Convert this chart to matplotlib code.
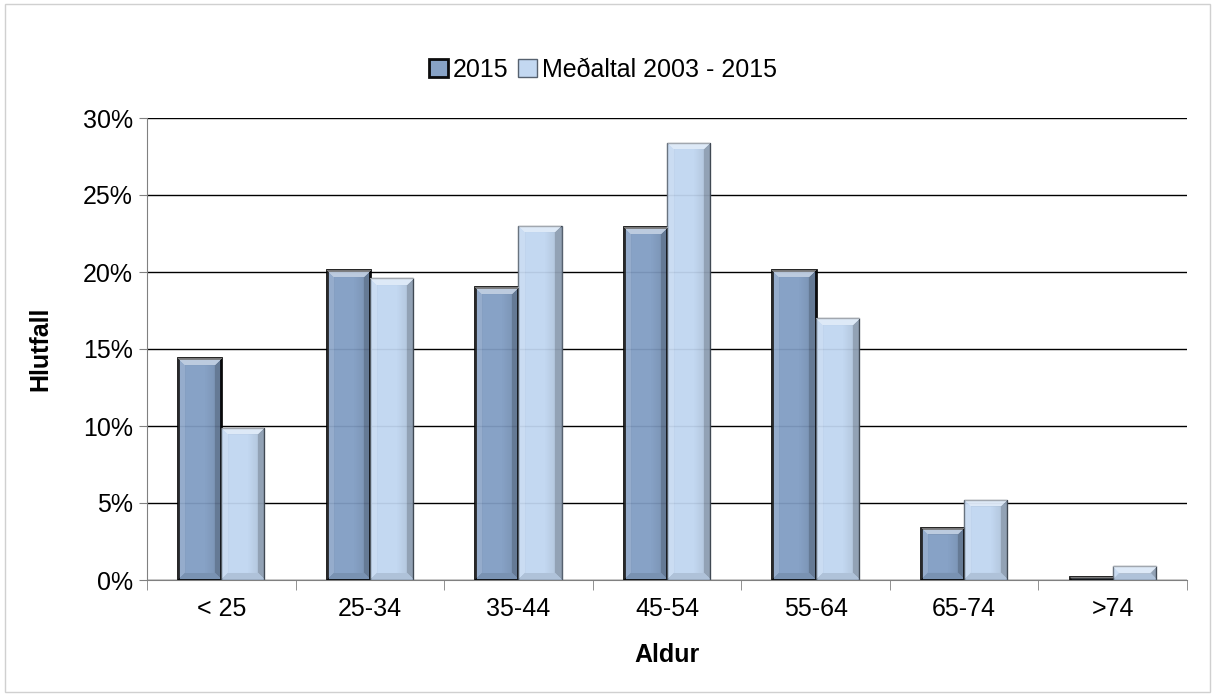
import matplotlib.pyplot as plt
import numpy as np
from matplotlib.patches import Rectangle

plt.rcParams["font.family"] = ["Liberation Sans", "DejaVu Sans"]

# Data
categories = ["< 25", "25-34", "35-44", "45-54", "55-64", "65-74", ">74"]
y2015 = [14.4, 20.1, 19.0, 22.9, 20.1, 3.4, 0.2]
avg = [9.9, 19.6, 23.0, 28.4, 17.0, 5.2, 0.9]
yticks = [0, 5, 10, 15, 20, 25, 30]

W, H = 1215, 695
fig = plt.figure(figsize=(W / 100, H / 100), dpi=100)
fig.patches.append(Rectangle((0.004, 0.004), 0.992, 0.99, transform=fig.transFigure,
                             fill=False, edgecolor="#d0d0d0", linewidth=1))
ax = fig.add_axes([147 / W, 1 - 580 / H, 1040 / W, 462 / H])

x = np.arange(len(categories))
w = 0.29
b1 = ax.bar(x - w / 2, y2015, w, color="#809cc3", edgecolor="black", linewidth=2,
            label="2015", zorder=3, alpha=0.94)
b2 = ax.bar(x + w / 2, avg, w, color="#c0d6f1", edgecolor="#4d5866", linewidth=1,
            label="Meðaltal 2003 - 2015", zorder=3, alpha=0.94)

ax.set_xlim(-0.5, len(categories) - 0.5)
ax.set_ylim(0, 30)


def bevel(patch, px=7):
    # shaded overlay that gives the bar a bevelled look
    bx, by = patch.get_x(), patch.get_y()
    bw, bh = patch.get_width(), patch.get_height()
    p0 = ax.transData.transform((bx, by))
    p1 = ax.transData.transform((bx + bw, by + bh))
    nc = max(int(p1[0] - p0[0]), 2)
    nr = max(int(p1[1] - p0[1]), 2)
    r = np.arange(nr)[:, None] * np.ones((1, nc))
    c = np.ones((nr, 1)) * np.arange(nc)[None, :]
    d_top, d_bot = r, nr - 1 - r
    d_left, d_right = c, nc - 1 - c
    img = np.zeros((nr, nc, 4))
    u = c / (nc - 1)
    img[..., 3] = 0.12 * np.clip((u - 0.6) / 0.4, 0, 1)
    dmin = np.minimum.reduce([d_top, d_bot, d_left, d_right])
    edge = dmin < px
    top = edge & (d_top == dmin)
    bot = edge & (d_bot == dmin) & ~top
    left = edge & (d_left == dmin) & ~top & ~bot
    right = edge & (d_right == dmin) & ~top & ~bot & ~left
    img[top] = [1, 1, 1, 0.45]
    img[left] = [1, 1, 1, 0.12]
    img[right] = [0, 0, 0, 0.25]
    img[bot] = [0, 0, 0, 0.10]
    im = ax.imshow(img, extent=(bx, bx + bw, by, by + bh), aspect="auto",
                   interpolation="bilinear", zorder=3.5)
    im.set_clip_path(patch)


for p in list(b1) + list(b2):
    bevel(p)

ax.set_xlim(-0.5, len(categories) - 0.5)
ax.set_ylim(0, 30)
ax.set_yticks(yticks)
ax.set_yticklabels([f"{t}%" for t in yticks])
ax.set_xticks(x)
ax.set_xticklabels(categories)
ax.set_xticks(np.arange(-0.5, len(categories)), minor=True)
ax.tick_params(axis="x", which="major", length=0, labelsize=18, pad=12)
ax.tick_params(axis="x", which="minor", length=7, color="#808080")
ax.tick_params(axis="y", labelsize=18, length=6, color="#808080", pad=4)
ax.grid(axis="y", color="black", linewidth=1, zorder=0)
ax.set_axisbelow(True)
for s in ["top", "right"]:
    ax.spines[s].set_visible(False)
ax.spines["left"].set_color("#808080")
ax.spines["bottom"].set_color("#808080")

ax.set_xlabel("Aldur", fontsize=18, fontweight="bold", labelpad=16)
ax.set_ylabel("Hlutfall", fontsize=18, fontweight="bold", labelpad=22)

fig.legend(loc="center", bbox_to_anchor=(603 / W, 1 - 70 / H), ncol=2, frameon=False,
           fontsize=18, handlelength=0.75, handleheight=0.75, handletextpad=0.2,
           columnspacing=0.4)

fig.savefig("out.png", dpi=100)
